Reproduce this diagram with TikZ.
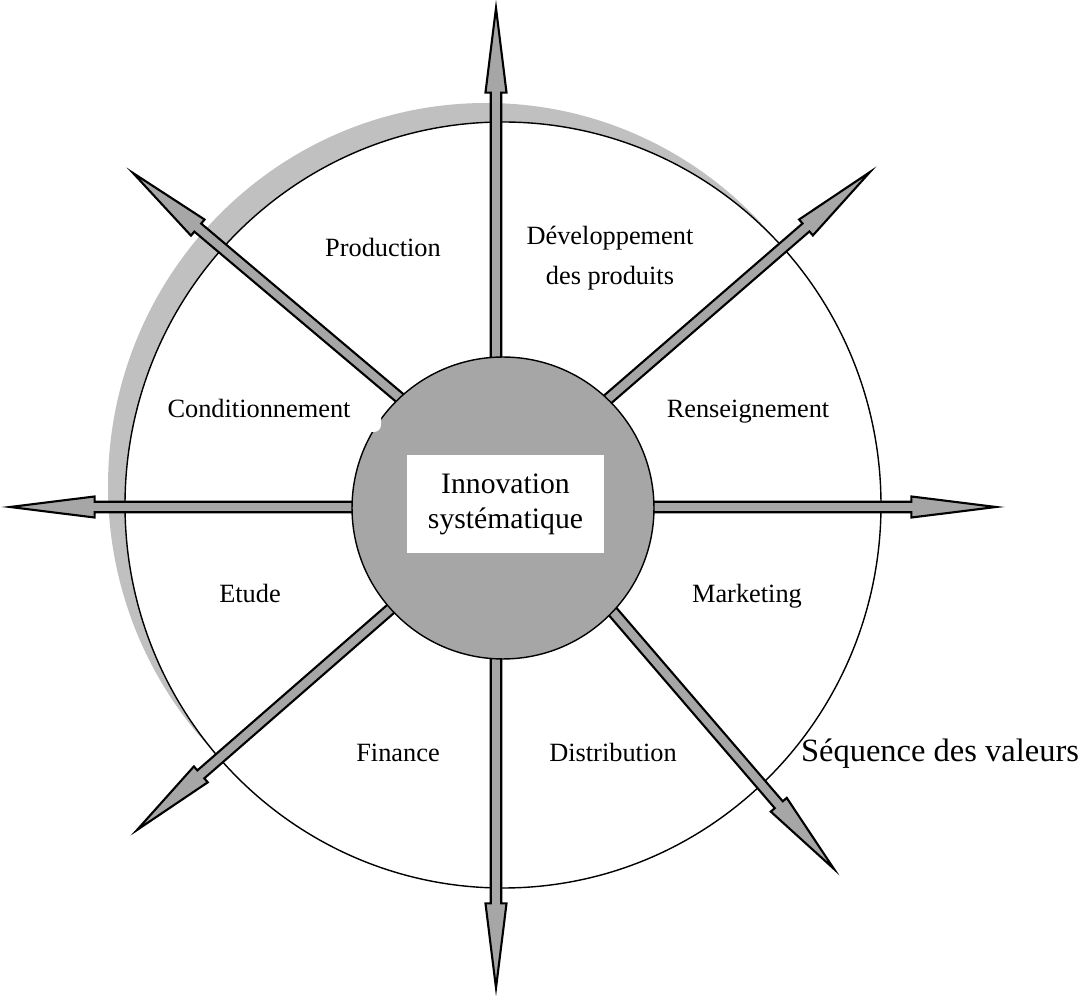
\documentclass[tikz,border=0pt]{standalone}
\usepackage{fontspec}
\setmainfont{Liberation Serif}
\usetikzlibrary{calc}

\definecolor{spokegray}{HTML}{A6A6A6}
\definecolor{shadowgray}{HTML}{C0C0C0}

% block arrow from #1 (tail, hidden under the hub) to #2 (tip)
\newcommand{\spoke}[2]{%
  \draw[spoke] let \p1=($(#2)-(#1)$), \n1={atan2(\y1,\x1)}, \n2={veclen(\x1,\y1)} in
    [shift={(#1)}, rotate=\n1]
    (0pt,-3pt) -- ({\n2-48.2pt},-3pt) -- ({\n2-48.2pt},-6pt) -- ({\n2+0pt},0pt)
    -- ({\n2-48.2pt},6pt) -- ({\n2-48.2pt},3pt) -- (0pt,3pt) -- cycle;}

\begin{document}
\begin{tikzpicture}[x=0.02cm, y=-0.02cm,
    lbl/.style={font=\fontsize{15}{22.5}\selectfont, align=center, inner sep=0pt},
    seg/.style={lbl, text height=0.69em, text depth=0.22em},
    spoke/.style={draw=black, line width=1.2pt, fill=spokegray, line join=miter},
    ring/.style={draw=black, line width=0.8pt, fill=white}
]
\useasboundingbox (0,0) rectangle (1086,996);

% shadow behind the value ring
\fill[shadowgray] (486,486) ellipse[x radius=378, y radius=383];
\draw[ring] (503,505) ellipse[x radius=378, y radius=383];

% arrow tips
\coordinate (tN) at (496,8);
\coordinate (tS) at (496,988);
\coordinate (tW) at (10,507);
\coordinate (tE) at (996,507);
\coordinate (tNW) at (133,173);
\coordinate (tNE) at (870,172);
\coordinate (tSW) at (137,830);
\coordinate (tSE) at (834,869);

% arrow tails (inside the hub)
\coordinate (sV) at (496,507);
\coordinate (sH) at (503,507);
\coordinate (sNW) at (503,485);
\coordinate (sNE) at (503,490);
\coordinate (sSW) at (503,511);
\coordinate (sSE) at (503,484);

\spoke{sV}{tN}
\spoke{sV}{tS}
\spoke{sH}{tW}
\spoke{sH}{tE}
\spoke{sNW}{tNW}
\spoke{sNE}{tNE}
\spoke{sSW}{tSW}
\spoke{sSE}{tSE}

% hub
\node[circle, draw, line width=0.8pt, fill=spokegray, minimum size=6.04cm, inner sep=0pt] (hub) at (503,508) {};
\fill[white, rounded corners=4pt] (340,388) rectangle (381,432);

\node[fill=white, minimum width=3.94cm, minimum height=1.96cm, align=center,
      font=\fontsize{16.9}{20}\selectfont] (core) at (505.5,504) {Innovation\\systématique};

% segment labels
\node[seg] (prod) at (383,252) {Production};
\node[lbl] (dev) at (610,258) {Développement\\des produits};
\node[seg] (cond) at (259,413) {Conditionnement};
\node[seg] (rens) at (748,413) {Renseignement};
\node[seg] (etude) at (250,598) {Etude};
\node[seg] (mkt) at (747,598) {Marketing};
\node[seg] (fin) at (398,757) {Finance};
\node[seg] (dist) at (613,757) {Distribution};
\node[seg, font=\fontsize{18.5}{22}\selectfont] (seq) at (940,757) {Séquence des valeurs};

\end{tikzpicture}
\end{document}
